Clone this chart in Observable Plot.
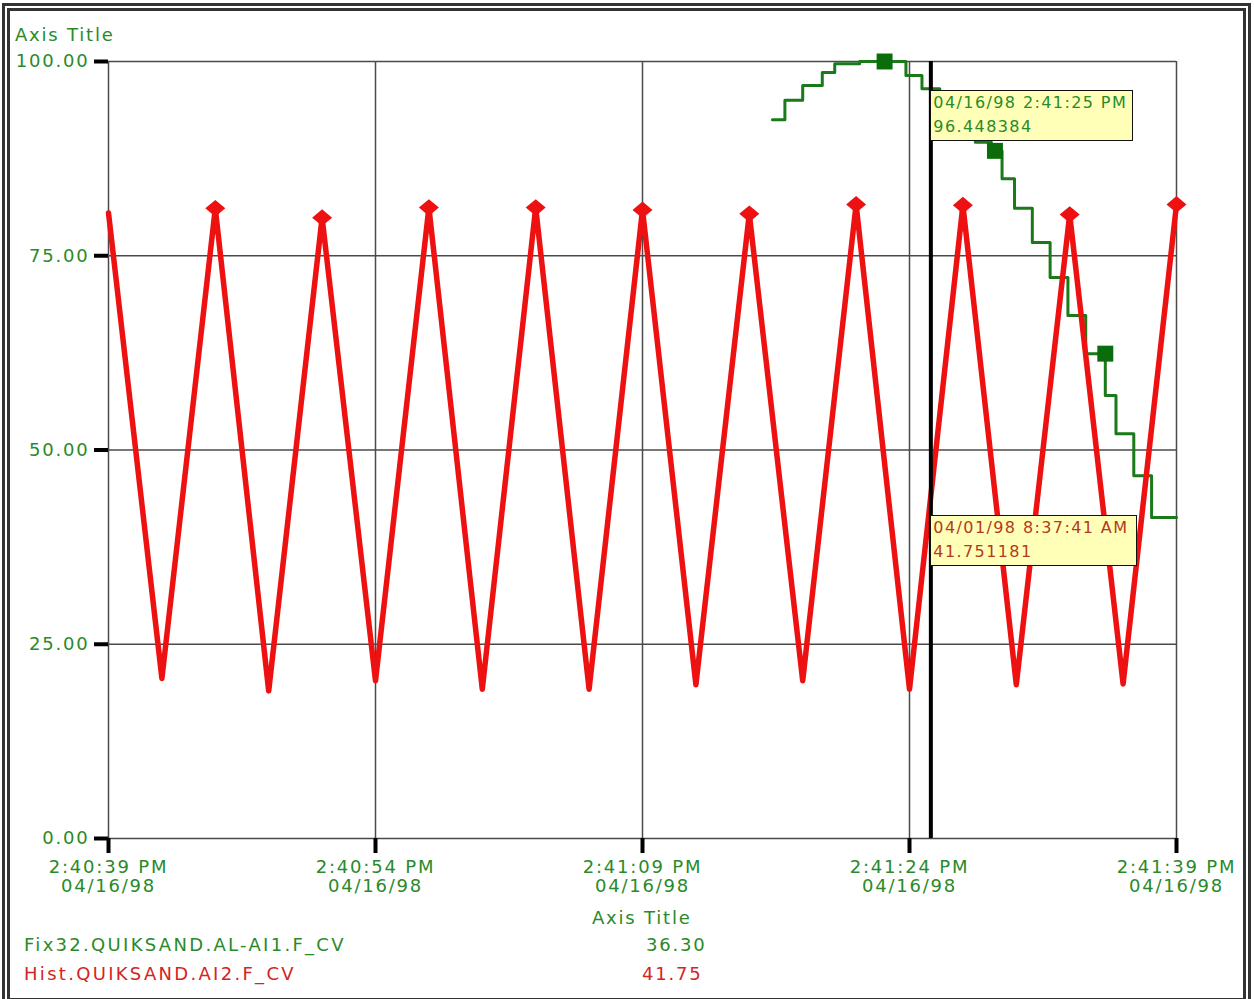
<!DOCTYPE html>
<html>
<head>
<meta charset="utf-8">
<script src="https://cdn.jsdelivr.net/npm/d3@7"></script>
<script src="https://cdn.jsdelivr.net/npm/@observablehq/plot@0.6"></script>
<style>
  html, body { margin: 0; padding: 0; background: #fff; }
  #wrap { position: relative; width: 1254px; height: 999px; overflow: hidden; background: #fff;
          font-family: "DejaVu Sans", sans-serif; font-weight: 400; }
  #border { position: absolute; left: 2px; top: 3px; width: 1249px; height: 1003px; box-sizing: border-box;
            border: 8px double #333; }
  #chart { position: absolute; left: 0; top: 0; }
  .txt { position: absolute; white-space: nowrap; font-size: 18px; line-height: 22px; letter-spacing: 1.8px; }
  .tip { position: absolute; white-space: nowrap; background: #ffffb8; border: 1px solid #111;
         box-sizing: border-box; font-size: 16px; line-height: 24px; letter-spacing: 1.4px; padding: 0 2px; }
  svg text { font-family: "DejaVu Sans", sans-serif; font-weight: 400; letter-spacing: 1.8px; }
</style>
</head>
<body>
<div id="wrap">
  <div id="border"></div>
  <div id="chart"></div>
</div>
<script>
// ---------- data ----------
const startUTC = Date.UTC(1998, 3, 16, 14, 40, 39); // 2:40:39 PM 04/16/98

const yTicks = [0, 25, 50, 75, 100];
const xTickSeconds = [0, 15, 30, 45, 60];

// Hist.QUIKSAND.AI2.F_CV (red zig-zag), seconds after start
const redSeconds = [0, 3, 6, 9, 12, 15, 18, 21, 24, 27, 30, 33, 36, 39, 42, 45, 48, 51, 54, 57, 60];
const redValues  = [80.5, 20.6, 81.1, 19.0, 79.9, 20.3, 81.2, 19.2, 81.2, 19.2, 80.9, 19.8,
                    80.4, 20.3, 81.6, 19.2, 81.5, 19.8, 80.3, 19.9, 81.6];
const redMarkerSeconds = [6, 12, 18, 24, 30, 36, 42, 48, 54, 60];

// Fix32.QUIKSAND.AL-AI1.F_CV (green step line)
const greenSeconds = [37.3, 38.0, 39.0, 40.1, 40.8, 42.2, 44.8, 45.7, 46.7, 47.7, 48.7, 49.6,
                      50.2, 50.9, 51.9, 52.9, 53.9, 54.9, 56.0, 56.6, 57.6, 58.6, 60.0];
const greenValues  = [92.5, 95.0, 96.9, 98.6, 99.7, 100.0, 98.2, 96.5, 94.3, 91.6, 89.6, 88.5,
                      84.9, 81.1, 76.7, 72.2, 67.3, 62.4, 57.0, 52.1, 46.7, 41.3, 41.3];
const greenMarkerSeconds = [43.6, 49.8, 56.0];
const greenMarkerValues  = [100.0, 88.5, 62.4];

// cursor and tooltips
const cursorSeconds = 46.2;
const greenTipLines = ["04/16/98 2:41:25 PM", "96.448384"];
const greenTipValue = 96.448384;
const redTipLines = ["04/01/98 8:37:41 AM", "41.751181"];
const redTipValue = 41.751181;

// legend
const legendNames  = ["Fix32.QUIKSAND.AL-AI1.F_CV", "Hist.QUIKSAND.AI2.F_CV"];
const legendValues = ["36.30", "41.75"];
const yAxisTitle = "Axis Title";
const xAxisTitle = "Axis Title";

// ---------- colours ----------
const GREEN_TXT = "#2a8a2a";
const GREEN_LINE = "#1a7a1a";
const GREEN_MARK = "#0a6c0a";
const RED = "#ee1111";
const RED_TXT = "#d42424";
const RED_TIP = "#b43a20";

// ---------- build ----------
const toDate = s => new Date(startUTC + s * 1000);
const redData = redSeconds.map((s, i) => ({time: toDate(s), value: redValues[i]}));
const redPeaks = redMarkerSeconds.map(s => redData.find(d => +d.time === +toDate(s)));
const greenData = greenSeconds.map((s, i) => ({time: toDate(s), value: greenValues[i]}));
const greenMarks = greenMarkerSeconds.map((s, i) => ({time: toDate(s), value: greenMarkerValues[i]}));
const xTickDates = xTickSeconds.map(toDate);
const fmtTime = d3.utcFormat("%-I:%M:%S %p");
const fmtDate = d3.utcFormat("%m/%d/%y");

const diamond = {
  draw(ctx, size) {
    const r = Math.sqrt(size / Math.PI);
    ctx.moveTo(0, -r * 1.05);
    ctx.lineTo(r * 1.25, 0);
    ctx.lineTo(0, r * 1.05);
    ctx.lineTo(-r * 1.25, 0);
    ctx.closePath();
  }
};

const chart = Plot.plot({
  width: 1254,
  height: 905,
  marginLeft: 108,
  marginRight: 78,
  marginTop: 61,
  marginBottom: 67,
  style: {fontFamily: "DejaVu Sans, sans-serif", fontSize: "18px", background: "transparent", overflow: "visible"},
  x: {type: "utc", domain: [toDate(0), toDate(60)]},
  y: {domain: [0, 100]},
  marks: [
    Plot.gridY(yTicks, {stroke: "#4a4a4a", strokeOpacity: 1, strokeWidth: 1.5}),
    Plot.gridX(xTickDates, {stroke: "#4a4a4a", strokeOpacity: 1, strokeWidth: 1.5}),
    Plot.axisY(yTicks, {tickSize: 14, tickPadding: 5, stroke: "#000", strokeWidth: 4, fill: GREEN_TXT,
                        tickFormat: d => d.toFixed(2), label: null}),
    Plot.axisX(xTickDates, {tickSize: 15, tickPadding: 5, stroke: "#000", strokeWidth: 4, fill: GREEN_TXT,
                            lineHeight: 1.1, tickFormat: d => fmtTime(d) + "\n" + fmtDate(d), label: null}),
    Plot.line(greenData, {x: "time", y: "value", stroke: GREEN_LINE, strokeWidth: 3, curve: "step-after"}),
    Plot.dot(greenMarks, {x: "time", y: "value", symbol: "square", r: 9, fill: GREEN_MARK, stroke: "none"}),
    Plot.line(redData, {x: "time", y: "value", stroke: RED, strokeWidth: 5.5}),
    Plot.dot(redPeaks, {x: "time", y: "value", symbol: diamond, r: 8, fill: RED, stroke: "none"}),
    Plot.ruleX([toDate(cursorSeconds)], {stroke: "#000", strokeWidth: 4})
  ]
});
document.getElementById("chart").appendChild(chart);

const wrap = document.getElementById("wrap");
const xs = chart.scale("x"), ys = chart.scale("y");
const cx = xs.apply(toDate(cursorSeconds));

function addText(text, left, top, color, extra) {
  const el = document.createElement("div");
  el.className = "txt";
  el.textContent = text;
  el.style.left = left + "px";
  el.style.top = top + "px";
  el.style.color = color;
  if (extra) Object.assign(el.style, extra);
  wrap.appendChild(el);
  return el;
}
function addTip(lines, value, color, width) {
  const el = document.createElement("div");
  el.className = "tip";
  el.innerHTML = lines.map(l => "<div>" + l + "</div>").join("");
  el.style.left = cx + "px";
  el.style.top = (ys.apply(value) + 1.5) + "px";
  el.style.width = width + "px";
  el.style.height = "51px";
  el.style.color = color;
  wrap.appendChild(el);
}

// y axis title (above plot)
addText(yAxisTitle, 15, 24, GREEN_TXT);
// x axis title (below plot)
const xt = addText(xAxisTitle, 0, 907, GREEN_TXT);
xt.style.left = ((xs.range[0] + xs.range[1]) / 2 - xt.offsetWidth / 2) + "px";
// legend
addText(legendNames[0], 24, 934, GREEN_TXT, {letterSpacing: "2.3px"});
addText(legendNames[1], 24, 963, RED_TXT, {letterSpacing: "2.3px"});
addText(legendValues[0], 646, 934, GREEN_TXT);
addText(legendValues[1], 642, 963, RED_TXT);
// tooltips
addTip(greenTipLines, greenTipValue, GREEN_TXT, 203);
addTip(redTipLines, redTipValue, RED_TIP, 207);
</script>
</body>
</html>
